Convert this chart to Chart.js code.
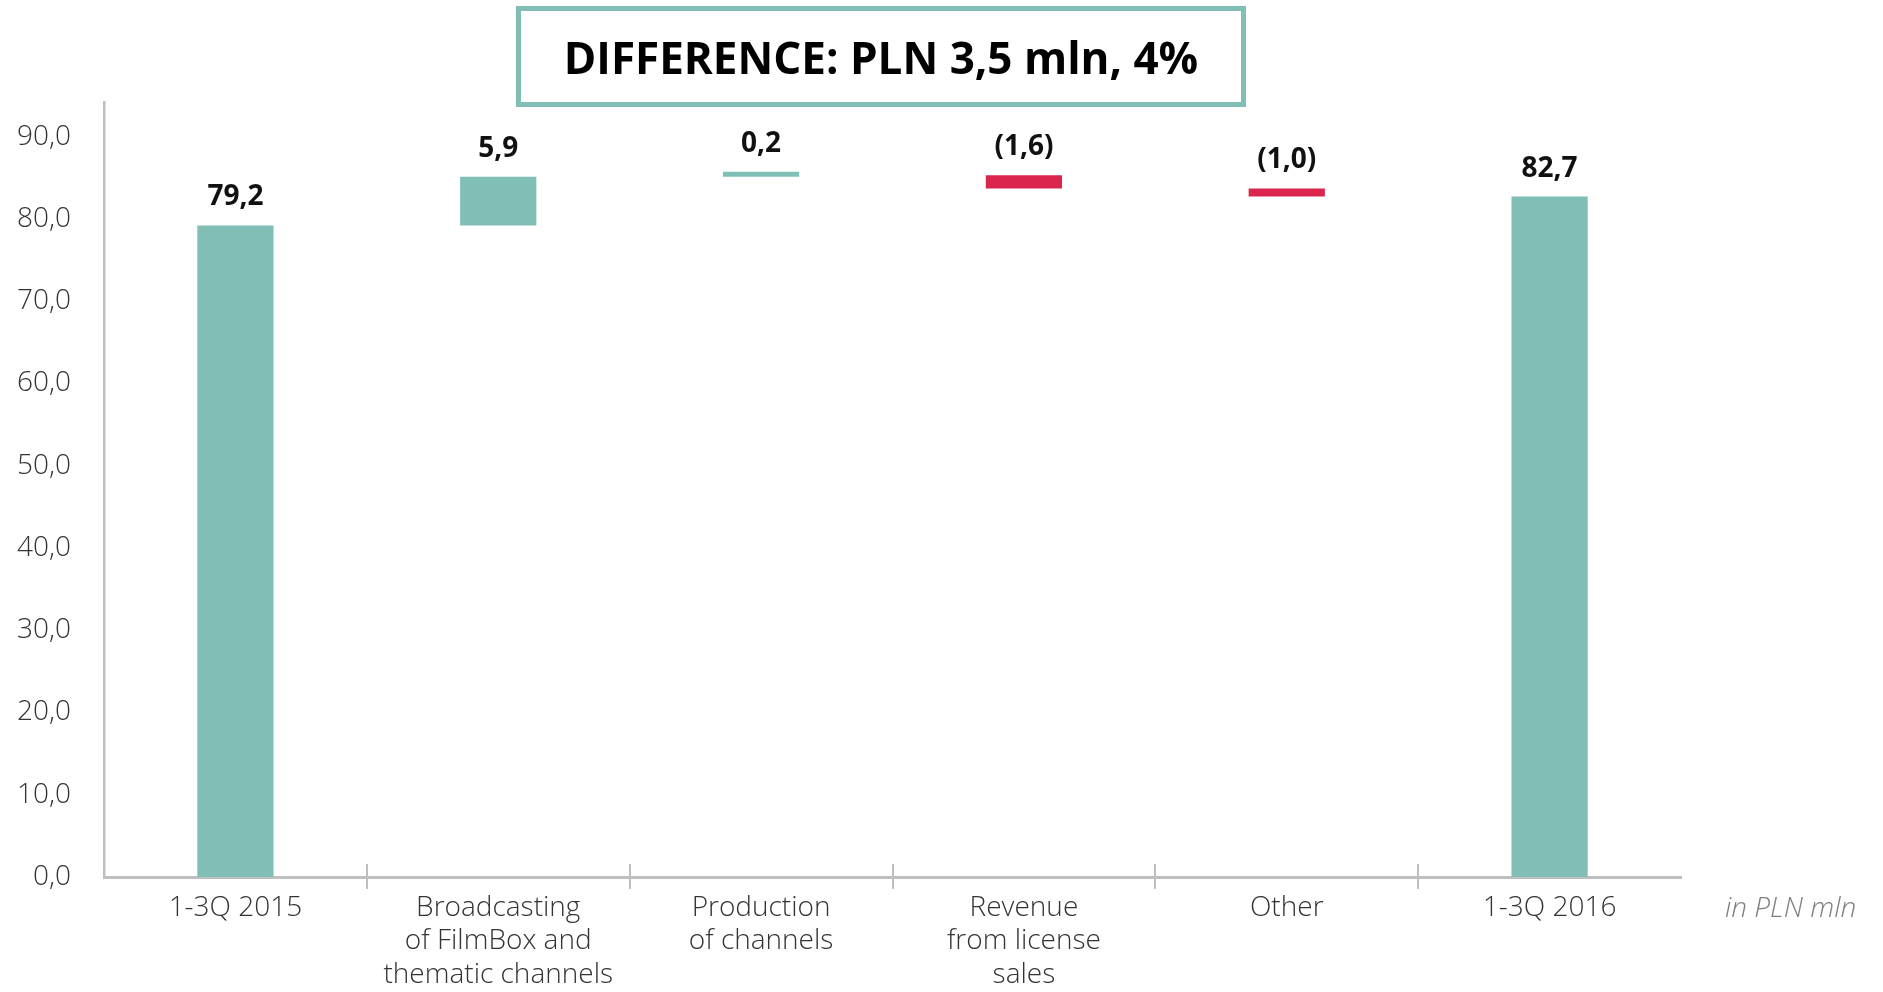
<!DOCTYPE html>
<html>
<head>
<meta charset="utf-8">
<script src="https://cdn.jsdelivr.net/npm/chart.js@4.4.0/dist/chart.umd.min.js"></script>
<style>
  html, body { margin: 0; padding: 0; background: #fff; }
  #wrap { position: relative; width: 1883px; height: 992px; }
  #difference {
    position: absolute; left: 516px; top: 6px; width: 730px; height: 101px;
    box-sizing: border-box; border: 5px solid #80beb6;
    display: flex; align-items: center; justify-content: center;
    font: 700 44px 'Open Sans', sans-serif; color: #000;
  }
</style>
</head>
<body>
<div id="wrap">
  <canvas id="chart" width="1883" height="992"></canvas>
  <div id="difference">DIFFERENCE: PLN 3,5 mln, 4%</div>
</div>
<script>
// Revenue bridge 1-3Q 2015 -> 1-3Q 2016 (PLN mln)
const categories = [
  ['1-3Q 2015'],
  ['Broadcasting', 'of FilmBox and', 'thematic channels'],
  ['Production', 'of channels'],
  ['Revenue', 'from license', 'sales'],
  ['Other'],
  ['1-3Q 2016']
];
const stepValues = [79.2, 5.9, 0.2, -1.6, -1.0, 82.7];
const isTotal = [true, false, false, false, false, true];
const yTicks = [0, 10, 20, 30, 40, 50, 60, 70, 80, 90];

const TEAL = '#80beb6';
const RED = '#da264e';
const FONT = "'Open Sans', sans-serif";

// build floating [from, to] ranges for the waterfall
let running = 0;
const ranges = stepValues.map((v, i) => {
  if (isTotal[i]) { running = v; return [0, v]; }
  const from = running;
  running = +(running + v).toFixed(1);
  return [Math.min(from, running), Math.max(from, running)];
});
const barColors = stepValues.map((v, i) => (isTotal[i] || v >= 0) ? TEAL : RED);

const fmt = v => {
  const s = Math.abs(v).toFixed(1).replace('.', ',');
  return v < 0 ? '(' + s + ')' : s;
};

const waterfallExtras = {
  id: 'waterfallExtras',
  afterDatasetsDraw(chart) {
    const { ctx, chartArea, scales: { x, y } } = chart;
    const meta = chart.getDatasetMeta(0);
    const axisY = y.getPixelForValue(0);
    ctx.save();

    // value labels above each bar
    ctx.font = '700 28px ' + FONT;
    ctx.fillStyle = '#111';
    ctx.textAlign = 'center';
    ctx.textBaseline = 'middle';
    meta.data.forEach((bar, i) => {
      const top = Math.min(bar.y, bar.base);
      ctx.fillText(fmt(stepValues[i]), bar.x, top - 28);
    });

    // separators between categories, crossing the axis
    ctx.strokeStyle = '#bfbfbf';
    ctx.lineWidth = 2;
    for (let i = 1; i < categories.length; i++) {
      const sx = Math.round((x.getPixelForValue(i - 1) + x.getPixelForValue(i)) / 2);
      ctx.beginPath();
      ctx.moveTo(sx, axisY - 13);
      ctx.lineTo(sx, axisY + 12);
      ctx.stroke();
    }

    // unit note
    ctx.font = 'italic 300 28px ' + FONT;
    ctx.fillStyle = '#7f7f7f';
    ctx.textAlign = 'left';
    ctx.fillText('in PLN mln', chartArea.right + 44, axisY + 32);
    ctx.restore();
  }
};

new Chart(document.getElementById('chart'), {
  type: 'bar',
  data: {
    labels: categories,
    datasets: [{
      data: ranges,
      backgroundColor: barColors,
      borderWidth: 0,
      minBarLength: 5,
      barPercentage: 1,
      categoryPercentage: 0.29
    }]
  },
  options: {
    responsive: false,
    animation: false,
    layout: { padding: { top: 102, right: 202, left: 0, bottom: 0 } },
    plugins: { legend: { display: false }, tooltip: { enabled: false } },
    scales: {
      x: {
        grid: { display: false, drawTicks: false },
        border: { display: true, color: '#bfbfbf', width: 3 },
        ticks: {
          color: '#333',
          font: { family: FONT, size: 28, weight: 300, lineHeight: 1.2 },
          padding: 14,
          maxRotation: 0,
          autoSkip: false
        },
        afterFit: s => { s.height = 115; }
      },
      y: {
        min: 0,
        max: 94.2,
        grid: { display: false, drawTicks: false },
        border: { display: true, color: '#bfbfbf', width: 2.5 },
        ticks: {
          stepSize: 10,
          color: '#333',
          padding: 33,
          font: { family: FONT, size: 28, weight: 300 },
          callback: v => v.toFixed(1).replace('.', ',')
        },
        afterBuildTicks: s => { s.ticks = yTicks.map(v => ({ value: v })); },
        afterFit: s => { s.width = 104; }
      }
    }
  },
  plugins: [waterfallExtras]
});
</script>
</body>
</html>
